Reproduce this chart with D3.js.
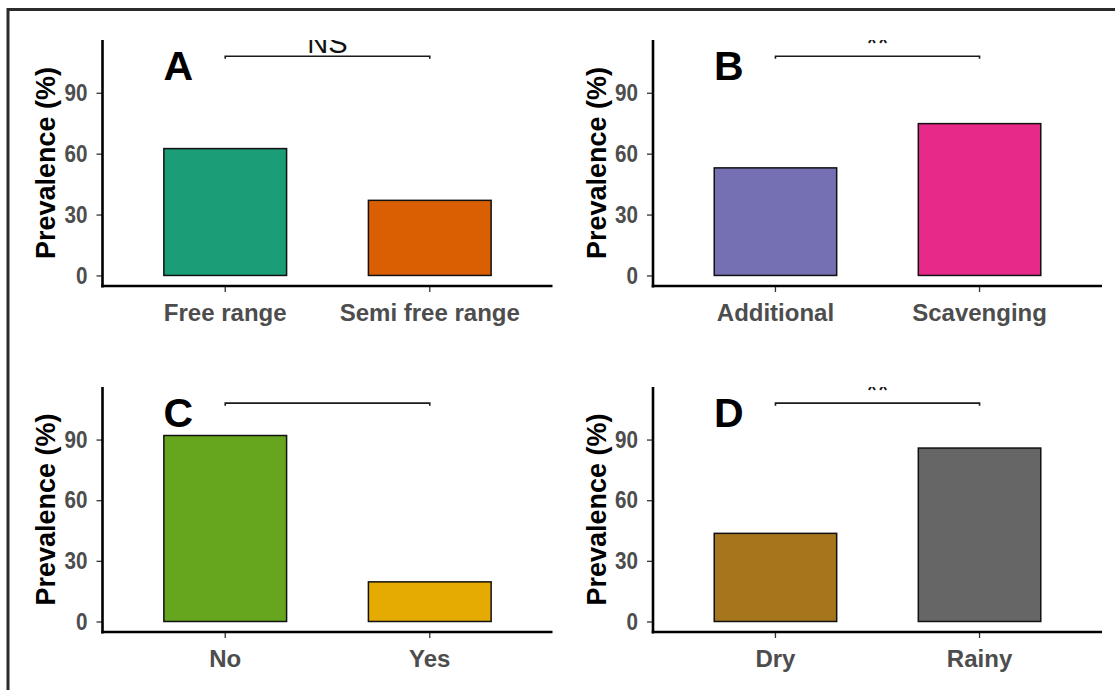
<!DOCTYPE html>
<html lang="en">
<head>
<meta charset="utf-8">
<title>Prevalence (%) by management factor</title>
<script src="https://d3js.org/d3.v7.min.js"></script>
<style>
  body { margin: 0; background: #fff; }
</style>
</head>
<body>
<script>
// chart values
var panelLetters = ["A", "B", "C", "D"];
var panelCategories = [
  ["Free range", "Semi free range"],
  ["Additional", "Scavenging"],
  ["No", "Yes"],
  ["Dry", "Rainy"]
];
var panelValues = [
  [62.5, 37],
  [53, 74.8],
  [92, 19.6],
  [43.6, 85.8]
];
var panelColors = [
  ["#1B9E77", "#D95F02"],
  ["#7570B3", "#E7298A"],
  ["#66A61E", "#E6AB02"],
  ["#A6761D", "#666666"]
];
var sigLabels = ["NS", "**", "", "**"];
var sigLevel = 108;
var yTicks = [0, 30, 60, 90];
var yLabel = "Prevalence (%)";

var w = 1115, h = 690;

var svg = d3.select("body").append("svg")
  .attr("width", w)
  .attr("height", h);

// outer frame (runs off the right and bottom edges)
svg.append("rect")
  .attr("x", 8).attr("y", 9.5)
  .attr("width", w + 20).attr("height", h + 20)
  .attr("fill", "none")
  .attr("stroke", "#2b2b2b")
  .attr("stroke-width", 3);

// plot boxes: y-axis x, right end, top of y-axis, x-axis y
var boxes = [
  {left: 102.5, right: 552.5, top: 40, bottom: 286},
  {left: 653, right: 1102, top: 40, bottom: 286},
  {left: 102.5, right: 552.5, top: 387, bottom: 632},
  {left: 653, right: 1102, top: 387, bottom: 632}
];

var tickGap = 15; // tick length + padding for the y tick labels

boxes.forEach(function(b, i) {
  var cats = panelCategories[i];
  var g = svg.append("g");

  var x = d3.scaleBand()
    .domain(cats)
    .range([b.left, b.right])
    .paddingInner(0.4)
    .paddingOuter(0.3);

  var y = d3.scaleLinear()
    .domain([-5.2, 116])
    .range([b.bottom, b.top]);

  // clip for the significance text (cut off at the panel top)
  g.append("clipPath").attr("id", "clip" + i)
    .append("rect")
    .attr("x", b.left).attr("y", b.top)
    .attr("width", b.right - b.left).attr("height", b.bottom - b.top);

  // bars
  g.selectAll("rect.bar")
    .data(cats)
    .enter()
    .append("rect")
    .attr("class", "bar")
    .attr("x", function(d) { return x(d); })
    .attr("width", x.bandwidth())
    .attr("y", function(d, j) { return y(panelValues[i][j]); })
    .attr("height", function(d, j) { return y(0) - y(panelValues[i][j]); })
    .attr("fill", function(d, j) { return panelColors[i][j]; })
    .attr("stroke", "#111")
    .attr("stroke-width", 1.5);

  // significance bracket
  var x1 = x(cats[0]) + x.bandwidth() / 2;
  var x2 = x(cats[1]) + x.bandwidth() / 2;
  var yb = y(sigLevel);
  g.append("path")
    .attr("d", "M" + x1 + "," + (yb + 2.5) + "V" + yb + "H" + x2 + "V" + (yb + 2.5))
    .attr("fill", "none")
    .attr("stroke", "#1a1a1a")
    .attr("stroke-width", 1.6);

  g.append("text")
    .attr("clip-path", "url(#clip" + i + ")")
    .attr("x", (x1 + x2) / 2)
    .attr("y", yb - 3)
    .attr("text-anchor", "middle")
    .style("font-family", "Liberation Sans, Arial, sans-serif")
    .style("font-size", "29px")
    .attr("fill", "#111")
    .text(sigLabels[i]);

  // panel letter
  g.append("text")
    .attr("x", b.left + 61)
    .attr("y", b.top + 40)
    .style("font-family", "Liberation Sans, Arial, sans-serif")
    .style("font-size", "41px")
    .style("font-weight", "bold")
    .attr("fill", "#000")
    .text(panelLetters[i]);

  // y axis
  var yAxis = g.append("g")
    .attr("transform", "translate(" + b.left + ",0)")
    .call(d3.axisLeft(y).tickValues(yTicks).tickSize(6).tickPadding(9));
  yAxis.select(".domain").remove();
  yAxis.selectAll("line").attr("stroke", "#333").attr("stroke-width", 1.3);
  yAxis.selectAll("text")
    .attr("x", 0)
    .attr("transform", "translate(" + (-tickGap) + ",0) scale(0.86,1)")
    .attr("fill", "#4d4d4d")
    .style("font-family", "Liberation Sans, Arial, sans-serif")
    .style("font-size", "24px")
    .style("font-weight", "bold");

  // x axis
  var xAxis = g.append("g")
    .attr("transform", "translate(0," + b.bottom + ")")
    .call(d3.axisBottom(x).tickSize(6).tickPadding(12));
  xAxis.select(".domain").remove();
  xAxis.selectAll("line").attr("stroke", "#333").attr("stroke-width", 1.3);
  xAxis.selectAll("text")
    .attr("fill", "#4d4d4d")
    .style("font-family", "Liberation Sans, Arial, sans-serif")
    .style("font-size", "24px")
    .style("font-weight", "bold");

  // axis lines
  g.append("line")
    .attr("x1", b.left).attr("x2", b.left)
    .attr("y1", b.top).attr("y2", b.bottom + 1.5)
    .attr("stroke", "#000").attr("stroke-width", 2.6);
  g.append("line")
    .attr("x1", b.left - 1.3).attr("x2", b.right)
    .attr("y1", b.bottom).attr("y2", b.bottom)
    .attr("stroke", "#000").attr("stroke-width", 2.6);

  // y label
  g.append("text")
    .attr("transform", "translate(" + (b.left - 47.5) + "," + ((b.top + b.bottom) / 2) + ") rotate(-90)")
    .attr("text-anchor", "middle")
    .style("font-family", "Liberation Sans, Arial, sans-serif")
    .style("font-size", "27px")
    .style("font-weight", "bold")
    .attr("fill", "#000")
    .text(yLabel);
});
</script>
</body>
</html>
